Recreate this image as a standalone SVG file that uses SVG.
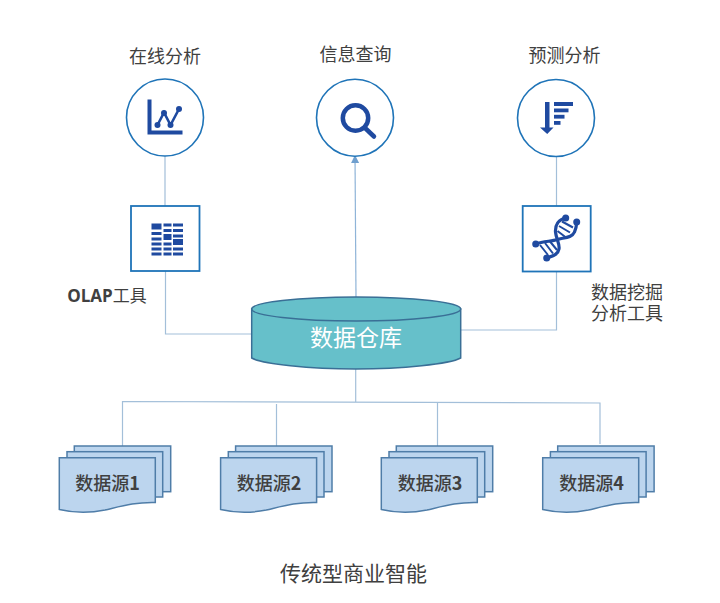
<svg xmlns="http://www.w3.org/2000/svg" width="720" height="603" viewBox="0 0 720 603">
<style>
text{font-family:"Noto Sans CJK SC","Liberation Sans",sans-serif;fill:#404040;text-anchor:middle}
.lbl{font-size:18px}
.ds{font-size:18px;font-weight:500}
.ln{fill:none;stroke:#a3bfd9;stroke-width:1.2}
.ring{fill:#fff;stroke:#1f74b8;stroke-width:1.6}
.box{fill:#fff;stroke:#1f74b8;stroke-width:1.8}
.ic{fill:#1f4aa0}
.icl{fill:none;stroke:#1f4aa0;stroke-linecap:round}
.pg{fill:#bcd5ee;stroke:#4f7da8;stroke-width:1.5}
</style>
<defs>
<marker id="ah" markerWidth="9" markerHeight="8" refX="7.5" refY="4" orient="auto" markerUnits="userSpaceOnUse"><path d="M0 0L8 4L0 8Z" fill="#6f9fce"/></marker>
<g id="stack">
<rect class="pg" x="74.3" y="446" width="96.4" height="45.7"/>
<rect class="pg" x="67" y="451.7" width="95.7" height="45.3"/>
<path class="pg" d="M59.3 457.7H155.3V502.5C135 502 122 506 105 510C88 513.5 72 512.5 59.3 509.5Z"/>
</g>
</defs>
<g id="connectors">
<path class="ln" d="M165 156V206M165.500 271V334H252"/>
<path class="ln" d="M556.500 156V206M556.500 271V330H461"/>
<path d="M356 297L355 155.500" fill="none" stroke="#8fb4d8" stroke-width="1.200" marker-end="url(#ah)"/>
<path class="ln" d="M355.700 369V402"/>
<path class="ln" d="M122.500 446V401.500L600 403V444"/>
<path class="ln" d="M276.500 404V446M437.500 403V446"/>
</g>
<g id="node-olap-analysis">
<text class="lbl" x="165" y="63">在线分析</text>
<circle class="ring" cx="165" cy="117.500" r="38.500"/>
<path class="ic" d="M147.500 99.500H151.500V130.500H182.500V134.500H147.500Z"/>
<path class="icl" stroke-width="2.600" d="M157.500 125L164 112.500L170.500 125L179 109"/>
<circle class="ic" cx="157.500" cy="125" r="3"/><circle class="ic" cx="164" cy="113" r="3"/><circle class="ic" cx="170.500" cy="125" r="3"/><circle class="ic" cx="179" cy="109" r="3"/>
</g>
<g id="node-info-query">
<text class="lbl" x="355.500" y="61">信息查询</text>
<circle class="ring" cx="355" cy="117.700" r="38.500"/>
<circle cx="355.500" cy="118" r="12.700" fill="none" stroke="#1f4aa0" stroke-width="4.500"/>
<path class="icl" stroke-width="4.500" d="M364.500 127.500L374 136.500"/>
</g>
<g id="node-prediction">
<text class="lbl" x="564.500" y="62">预测分析</text>
<circle class="ring" cx="556" cy="118" r="38.500"/>
<path class="ic" d="M545 102H549.500V127.500H553.500L547.200 134L540 127.500H545Z"/>
<rect class="ic" x="554" y="102" width="19" height="4"/>
<rect class="ic" x="554" y="108.500" width="14.500" height="3.800"/>
<rect class="ic" x="554" y="114.800" width="10.500" height="3.800"/>
<rect class="ic" x="554" y="121" width="6.500" height="3.800"/>
</g>
<g id="node-olap-tool">
<rect class="box" x="131" y="206" width="68.500" height="65"/>
<rect class="ic" x="151.500" y="223.500" width="10" height="6"/><rect class="ic" x="163.500" y="223.500" width="8" height="3"/><rect class="ic" x="173" y="223.500" width="10" height="3"/>
<rect class="ic" x="163.500" y="229" width="8" height="3"/><rect class="ic" x="173" y="229" width="10" height="3"/>
<rect class="ic" x="151.500" y="232" width="10" height="3"/><rect class="ic" x="163.500" y="234" width="8" height="6"/><rect class="ic" x="173" y="234.500" width="10" height="3"/>
<rect class="ic" x="151.500" y="237.500" width="10" height="3"/><rect class="ic" x="173" y="239" width="10" height="6"/>
<rect class="ic" x="151.500" y="242.500" width="10" height="3"/><rect class="ic" x="163.500" y="242.500" width="8" height="3"/>
<rect class="ic" x="151.500" y="247.500" width="10" height="3"/><rect class="ic" x="163.500" y="247.500" width="8" height="3"/><rect class="ic" x="173" y="247.500" width="10" height="3"/>
<rect class="ic" x="151.500" y="252.500" width="10" height="3"/><rect class="ic" x="163.500" y="252.500" width="8" height="3"/><rect class="ic" x="173" y="252.500" width="10" height="3"/>
<text x="107" y="302" font-size="17"><tspan font-weight="700" style="font-family:'Open Sans','Liberation Sans',sans-serif">OLAP</tspan>工具</text>
</g>
<g id="node-mining-tool">
<rect class="box" x="522.700" y="206" width="68" height="65.500"/>
<path d="M540 245L548 255M545 243L553 253.500M550 241.500L557 250M557.500 231L566 237.500M559 226L570 232.500M562 221.500L573 227.500" stroke="#1f4aa0" stroke-width="2" fill="none"/>
<path class="icl" stroke-width="3.200" d="M535.700 244C544 241 552 241.500 557 239.500C564 237.500 572 238 574.500 232C576.500 228 576.500 225 576.700 222"/>
<path class="icl" stroke-width="3.200" d="M546.700 258C552 256 558 255 559 249C560 244 556 238 555.500 232C555 225 558.500 219.500 565.700 218"/>
<circle class="ic" cx="535.700" cy="244" r="3.500"/><circle class="ic" cx="546.700" cy="258" r="3.500"/><circle class="ic" cx="565.700" cy="218" r="3.500"/><circle class="ic" cx="576.700" cy="222" r="3.500"/>
<text class="lbl"><tspan x="627" y="299">数据挖掘</tspan><tspan x="627" y="320">分析工具</tspan></text>
</g>
<g id="node-warehouse">
<path d="M251.700 309V358C262 364 310 369 356 369C402 369 450 364 460.700 358V309Z" fill="#66c0ca" stroke="#3a6f96" stroke-width="1.500"/>
<ellipse cx="356.200" cy="309" rx="104.500" ry="12" fill="#66c0ca" stroke="#3a6f96" stroke-width="1.500"/>
<text x="356" y="346" font-size="23" style="fill:#fff">数据仓库</text>
</g>
<g id="node-source-1"><use href="#stack"/><text class="ds" x="107.500" y="490">数据源<tspan font-weight="700">1</tspan></text></g>
<g id="node-source-2"><use href="#stack" x="161.300"/><text class="ds" x="269" y="490">数据源<tspan font-weight="700">2</tspan></text></g>
<g id="node-source-3"><use href="#stack" x="322"/><text class="ds" x="430" y="490">数据源<tspan font-weight="700">3</tspan></text></g>
<g id="node-source-4"><use href="#stack" x="483.400"/><text class="ds" x="591.500" y="490">数据源<tspan font-weight="700">4</tspan></text></g>
<text id="title" x="353.500" y="581" font-size="21">传统型商业智能</text>
</svg>
